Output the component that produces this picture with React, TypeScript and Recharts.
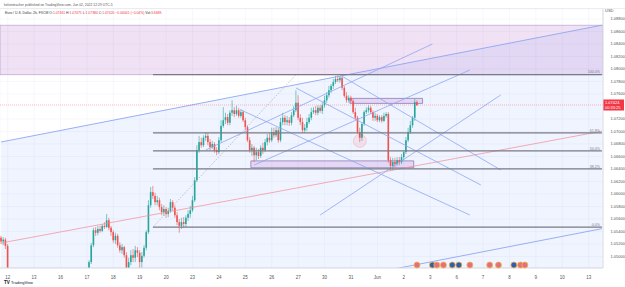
import {
  Area,
  Bar,
  CartesianGrid,
  ComposedChart,
  ReferenceArea,
  ReferenceDot,
  ReferenceLine,
  XAxis,
  YAxis,
} from "recharts"

// EUR/USD 2h candles, [open, high, low, close], one array per trading day
type Ohlc = [number, number, number, number]

const may11: Ohlc[] = [
  [1.053, 1.0533, 1.052, 1.0524], [1.0524, 1.0531, 1.0518, 1.0527], [1.0527, 1.053, 1.0512, 1.0517],
]
const may12: Ohlc[] = [
  [1.0517, 1.052, 1.0462, 1.047], [1.047, 1.0478, 1.0445, 1.0452], [1.0452, 1.046, 1.043, 1.0438],
  [1.0438, 1.0446, 1.0412, 1.042], [1.042, 1.0432, 1.0398, 1.0405], [1.0405, 1.0418, 1.0388, 1.041],
  [1.041, 1.0422, 1.0395, 1.04], [1.04, 1.0408, 1.0365, 1.0372], [1.0372, 1.0385, 1.0352, 1.038],
  [1.038, 1.0395, 1.037, 1.0388], [1.0388, 1.04, 1.0378, 1.0382], [1.0382, 1.0392, 1.0372, 1.0378],
]
const may13: Ohlc[] = [
  [1.0378, 1.0388, 1.0368, 1.0384], [1.0384, 1.0398, 1.0376, 1.0392], [1.0392, 1.0405, 1.0385, 1.04],
  [1.04, 1.0412, 1.039, 1.0395], [1.0395, 1.042, 1.039, 1.0414], [1.0414, 1.0425, 1.0402, 1.0408],
  [1.0408, 1.0416, 1.0385, 1.0392], [1.0392, 1.0402, 1.0375, 1.038], [1.038, 1.0392, 1.036, 1.037],
  [1.037, 1.0385, 1.0362, 1.0378], [1.0378, 1.0395, 1.0372, 1.0388], [1.0388, 1.0398, 1.038, 1.0392],
]
const may16: Ohlc[] = [
  [1.0392, 1.0408, 1.0385, 1.0402], [1.0402, 1.0415, 1.0395, 1.041], [1.041, 1.0422, 1.0398, 1.0404],
  [1.0404, 1.0412, 1.0389, 1.0396], [1.0396, 1.0418, 1.0392, 1.0414], [1.0414, 1.043, 1.0408, 1.0425],
  [1.0425, 1.044, 1.0418, 1.0434], [1.0434, 1.0445, 1.0422, 1.0428], [1.0428, 1.0438, 1.0415, 1.0422],
  [1.0422, 1.0436, 1.0418, 1.0432], [1.0432, 1.0442, 1.0425, 1.0438], [1.0438, 1.0448, 1.043, 1.0442],
]
const may17: Ohlc[] = [
  [1.0446, 1.0466, 1.0443, 1.0459], [1.0459, 1.0494, 1.0456, 1.0491], [1.0491, 1.0522, 1.0488, 1.0518],
  [1.0518, 1.0546, 1.0515, 1.0542], [1.0542, 1.0547, 1.0533, 1.0538], [1.0538, 1.0549, 1.0534, 1.0544],
  [1.0544, 1.0549, 1.0538, 1.0541], [1.0541, 1.0552, 1.0539, 1.0549], [1.0549, 1.0555, 1.0544, 1.0547],
  [1.0547, 1.0568, 1.0546, 1.0558], [1.0558, 1.0562, 1.0542, 1.0546], [1.0546, 1.0549, 1.0533, 1.0539],
]
const may18: Ohlc[] = [
  [1.0539, 1.0542, 1.0522, 1.0526], [1.0526, 1.0538, 1.052, 1.0533], [1.0533, 1.0536, 1.0514, 1.0518],
  [1.0518, 1.0523, 1.0506, 1.051], [1.051, 1.052, 1.0504, 1.0515], [1.0515, 1.0517, 1.0498, 1.0502],
  [1.0502, 1.0507, 1.047, 1.0478], [1.0478, 1.0498, 1.0472, 1.0491], [1.0491, 1.051, 1.0486, 1.0502],
  [1.0502, 1.0512, 1.0491, 1.0498], [1.0498, 1.0517, 1.0491, 1.051], [1.051, 1.0515, 1.0499, 1.0506],
]
const may19: Ohlc[] = [
  [1.0506, 1.051, 1.0478, 1.0491], [1.0491, 1.0507, 1.0475, 1.0501], [1.0501, 1.0518, 1.0498, 1.0514],
  [1.0514, 1.0542, 1.051, 1.0539], [1.0539, 1.059, 1.0536, 1.0582], [1.0582, 1.0611, 1.0578, 1.0603],
  [1.0603, 1.0613, 1.0592, 1.0597], [1.0597, 1.0602, 1.0582, 1.0587], [1.0587, 1.0597, 1.0582, 1.059],
  [1.059, 1.0594, 1.0574, 1.0579], [1.0579, 1.0584, 1.0566, 1.0571], [1.0571, 1.0582, 1.0565, 1.0576],
]
const may20: Ohlc[] = [
  [1.0576, 1.0579, 1.0562, 1.0568], [1.0568, 1.0578, 1.0563, 1.0573], [1.0573, 1.0592, 1.057, 1.0587],
  [1.0587, 1.059, 1.0573, 1.0578], [1.0578, 1.0582, 1.0562, 1.0566], [1.0566, 1.0571, 1.055, 1.0555],
  [1.0555, 1.056, 1.0538, 1.0549], [1.0549, 1.0562, 1.0544, 1.0555], [1.0555, 1.0563, 1.0546, 1.0552],
  [1.0552, 1.0566, 1.0547, 1.0562], [1.0562, 1.0574, 1.0557, 1.0568], [1.0568, 1.0581, 1.0562, 1.0574],
]
const may23: Ohlc[] = [
  [1.0574, 1.0597, 1.0571, 1.059], [1.059, 1.0627, 1.0587, 1.0622], [1.0622, 1.0678, 1.0619, 1.067],
  [1.067, 1.0693, 1.0666, 1.0683], [1.0683, 1.069, 1.0674, 1.0678], [1.0678, 1.0694, 1.0675, 1.069],
  [1.069, 1.0699, 1.0685, 1.0693], [1.0693, 1.0698, 1.0678, 1.0683], [1.0683, 1.0688, 1.067, 1.0675],
  [1.0675, 1.0685, 1.0672, 1.068], [1.068, 1.0683, 1.0666, 1.067], [1.067, 1.0675, 1.0662, 1.0667],
]
const may24: Ohlc[] = [
  [1.0667, 1.0691, 1.0664, 1.0686], [1.0686, 1.0718, 1.0683, 1.0709], [1.0709, 1.0739, 1.0706, 1.0718],
  [1.0718, 1.073, 1.0712, 1.0723], [1.0723, 1.0728, 1.071, 1.0714], [1.0714, 1.0734, 1.071, 1.073],
  [1.073, 1.075, 1.0725, 1.0734], [1.0734, 1.0739, 1.0723, 1.0728], [1.0728, 1.0741, 1.0725, 1.0734],
  [1.0734, 1.0738, 1.0722, 1.0725], [1.0725, 1.0736, 1.0722, 1.0731], [1.0731, 1.0734, 1.0715, 1.0718],
]
const may25: Ohlc[] = [
  [1.0718, 1.0722, 1.0702, 1.0707], [1.0707, 1.071, 1.0683, 1.0686], [1.0686, 1.0691, 1.0666, 1.067],
  [1.067, 1.068, 1.0661, 1.0674], [1.0674, 1.0677, 1.0651, 1.0662], [1.0662, 1.0674, 1.0654, 1.0667],
  [1.0667, 1.0672, 1.0656, 1.0661], [1.0661, 1.0678, 1.0658, 1.0674], [1.0674, 1.0682, 1.0664, 1.067],
  [1.067, 1.0688, 1.0667, 1.0683], [1.0683, 1.0696, 1.0678, 1.069], [1.069, 1.0698, 1.0682, 1.0686],
]
const may26: Ohlc[] = [
  [1.0686, 1.0706, 1.0683, 1.0699], [1.0699, 1.0706, 1.069, 1.0694], [1.0694, 1.0707, 1.0691, 1.0702],
  [1.0702, 1.0706, 1.0682, 1.0686], [1.0686, 1.0722, 1.0683, 1.0715], [1.0715, 1.073, 1.071, 1.0722],
  [1.0722, 1.0726, 1.071, 1.0715], [1.0715, 1.0725, 1.071, 1.0718], [1.0718, 1.0723, 1.0709, 1.0714],
  [1.0714, 1.0731, 1.071, 1.0726], [1.0726, 1.0741, 1.0723, 1.0734], [1.0734, 1.0766, 1.0731, 1.0746],
]
const may27: Ohlc[] = [
  [1.0746, 1.0758, 1.0718, 1.0722], [1.0722, 1.0728, 1.071, 1.0715], [1.0715, 1.0722, 1.0698, 1.0702],
  [1.0702, 1.0712, 1.0698, 1.0706], [1.0706, 1.0722, 1.0701, 1.0715], [1.0715, 1.0728, 1.0712, 1.0722],
  [1.0722, 1.0738, 1.0718, 1.0731], [1.0731, 1.0739, 1.0728, 1.0734], [1.0734, 1.0741, 1.0726, 1.073],
  [1.073, 1.0742, 1.0726, 1.0738], [1.0738, 1.0742, 1.073, 1.0733], [1.0733, 1.0747, 1.0728, 1.0742],
]
const may30: Ohlc[] = [
  [1.0742, 1.0757, 1.0738, 1.075], [1.075, 1.0763, 1.0746, 1.0758], [1.0758, 1.0773, 1.0754, 1.0766],
  [1.0766, 1.0776, 1.0762, 1.0773], [1.0773, 1.0784, 1.0768, 1.0779], [1.0779, 1.0789, 1.0776, 1.0784],
  [1.0784, 1.079, 1.0779, 1.0782], [1.0782, 1.0789, 1.0778, 1.0786], [1.0786, 1.0787, 1.0766, 1.077],
  [1.077, 1.0773, 1.0754, 1.0757], [1.0757, 1.0763, 1.0746, 1.075], [1.075, 1.0758, 1.0746, 1.0754],
]
const may31: Ohlc[] = [
  [1.0754, 1.0757, 1.0746, 1.0749], [1.0749, 1.0752, 1.0728, 1.0731], [1.0731, 1.0738, 1.0718, 1.0722],
  [1.0722, 1.0725, 1.0696, 1.0699], [1.0699, 1.0706, 1.0683, 1.069], [1.069, 1.0715, 1.0685, 1.0712],
  [1.0712, 1.0734, 1.0709, 1.0731], [1.0731, 1.0739, 1.0728, 1.0734], [1.0734, 1.0742, 1.073, 1.0738],
  [1.0738, 1.0741, 1.0728, 1.0731], [1.0731, 1.0734, 1.0717, 1.0722], [1.0722, 1.073, 1.0717, 1.0725],
]
const jun01: Ohlc[] = [
  [1.0725, 1.0728, 1.0715, 1.0718], [1.0718, 1.0726, 1.0715, 1.0723], [1.0723, 1.0726, 1.0714, 1.0717],
  [1.0717, 1.073, 1.0715, 1.0725], [1.0725, 1.0731, 1.0722, 1.0728], [1.0728, 1.0731, 1.065, 1.0654],
  [1.0654, 1.0659, 1.0637, 1.0645], [1.0645, 1.0658, 1.0638, 1.0651], [1.0651, 1.0658, 1.0643, 1.0648],
  [1.0648, 1.0659, 1.0645, 1.0654], [1.0654, 1.0659, 1.0646, 1.0651], [1.0651, 1.0664, 1.0648, 1.0659],
]
const jun02: Ohlc[] = [
  [1.0659, 1.067, 1.0654, 1.0667], [1.0667, 1.0691, 1.0664, 1.0686], [1.0686, 1.0706, 1.0683, 1.0699],
  [1.0699, 1.0717, 1.0696, 1.071], [1.071, 1.0725, 1.0706, 1.0722], [1.0722, 1.0752, 1.0717, 1.0747],
  [1.0747, 1.075, 1.0741, 1.0742],
]

const candles = [
  ...may11, ...may12, ...may13, ...may16, ...may17, ...may18, ...may19, ...may20, ...may23,
  ...may24, ...may25, ...may26, ...may27, ...may30, ...may31, ...jun01, ...jun02,
]

// time axis: one slot per 2h bar, 12 per day; first day label sits at slot 3
const dayLabels = ["12", "13", "16", "17", "18", "19", "20", "23", "24", "25", "26", "27", "30", "31", "Jun", "2", "3", "6", "7", "8", "9", "10", "13"]
const SLOTS = 274
const FIRST_DAY = 3
const dayTicks = dayLabels.map((_, d) => FIRST_DAY + d * 12)

// 1.07400 sits behind the last-price tag, so it is left out like in the reference
const priceTicks = [1.05, 1.052, 1.054, 1.056, 1.058, 1.06, 1.062, 1.064, 1.066, 1.068, 1.07, 1.072, 1.076, 1.078, 1.08, 1.082, 1.084, 1.086, 1.088]

// fibonacci retracement
const fibLow = 1.0547
const fibHigh = 1.0791
const fibLevels = [0, 0.382, 0.5, 0.618, 1]
const fibStart = 69

// channel and trend lines: [slotA, priceA, slotB, priceB]
const channelTop: [number, number, number, number] = [0, 1.06832, 273, 1.08701]
const channelBottom: [number, number, number, number] = [150, 1.04605, 273, 1.05445]
const redTrend: [number, number, number, number] = [0, 1.05216, 273, 1.07005]
const forkLines: [number, number, number, number][] = [
  [93, 1.06704, 196, 1.084],
  [115, 1.06464, 213, 1.07984],
  [145, 1.05664, 227, 1.07584],
  [134, 1.07696, 218, 1.06144],
  [154, 1.07904, 227, 1.06384],
  [109, 1.07344, 213, 1.05664],
]

// zones
const topZone = { x1: 0, x2: 273, y1: 1.0791, y2: 1.087 }
const zones = [
  { x1: 159, x2: 191, y1: 1.0745, y2: 1.0753 },
  { x1: 114, x2: 187, y1: 1.0642, y2: 1.0653 },
]
const lowMarker = { x: 163, y: 1.0685 }

// economic calendar markers
const eventSlots = [189, 196, 198, 201, 205, 208, 213, 222, 226, 233, 236, 238]
const eventKinds = ["US", "EU", "US", "US", "EU", "EU", "US", "US", "US", "EU", "US", "US"]
const eventPrice = 1.04864

const lastPrice = 1.07424

const rows = Array.from({ length: SLOTS }, (_, i) => {
  const k = candles[i]
  const row: any = { i }
  if (k) {
    row.o = k[0]; row.h = k[1]; row.l = k[2]; row.c = k[3]
    row.range = [k[2], k[1]]
  }
  if (i === channelTop[0]) row.fill = [1.0, channelTop[1]]
  if (i === channelTop[2]) row.fill = [1.0, channelTop[3]]
  return row
})

const UP = "#26a69a"
const DOWN = "#ef5350"
const LINE = "#8ea6f2"

function Candle(props: any) {
  const { x, y, width, height, payload } = props
  if (!payload || payload.h == null) return null
  const { o, h, l, c } = payload
  const top = Math.min(y, y + height)
  const hgt = Math.abs(height)
  const span = h - l || 1e-9
  const py = (v: number) => top + ((h - v) / span) * hgt
  const cx = x + width / 2
  const color = c >= o ? UP : DOWN
  const bTop = py(Math.max(o, c))
  const bBot = py(Math.min(o, c))
  return (
    <g>
      <line x1={cx} x2={cx} y1={top} y2={top + hgt} stroke={color} strokeWidth={0.6} />
      <rect x={cx - 0.8} y={bTop} width={1.6} height={Math.max(0.6, bBot - bTop)} fill={color} />
    </g>
  )
}

function fibLabel(text: string) {
  return (p: any) => {
    const vb = p.viewBox || {}
    return (
      <text x={(vb.x || 0) + (vb.width || 0) - 2} y={(vb.y || 0) - 1.2} textAnchor="end" fontSize={3.6} fill="#787b86" fontFamily="Arial, sans-serif">
        {text}
      </text>
    )
  }
}

function PriceTag(p: any) {
  const vb = p.viewBox || {}
  const x = (vb.x || 0) + (vb.width || 0)
  const y = vb.y || 0
  return (
    <g fontFamily="Arial, sans-serif">
      <rect x={x} y={y - 5.5} width={21} height={11} fill="#f23645" />
      <text x={x + 2} y={y - 0.8} fontSize={4} fill="#fff">{lastPrice.toFixed(5)}</text>
      <text x={x + 2} y={y + 4} fontSize={4} fill="#fff">00:33:25</text>
    </g>
  )
}

export default function App() {
  return (
    <div style={{ position: "relative", width: 625, height: 287, background: "#fff" }}>
      <style>{"body{margin:0}"}</style>
      <ComposedChart width={625} height={287} data={rows} margin={{ top: 9, right: 0, bottom: 0, left: 0 }} barCategoryGap={0}>
        <CartesianGrid stroke="#f0f3fa" strokeWidth={0.6} />
        <XAxis
          dataKey="i"
          type="category"
          ticks={dayTicks}
          interval={0}
          tickFormatter={(v: number) => dayLabels[(v - FIRST_DAY) / 12] ?? ""}
          tick={{ fontSize: 4.5, fill: "#555", fontFamily: "Arial, sans-serif" }}
          tickLine={false}
          tickMargin={2}
          axisLine={{ stroke: "#d6d9e0" }}
          height={19}
        />
        <YAxis
          orientation="right"
          domain={[1.04816, 1.0896]}
          allowDataOverflow
          ticks={priceTicks}
          interval={0}
          tickFormatter={(v: number) => v.toFixed(5)}
          tick={{ fontSize: 4, fill: "#555", fontFamily: "Arial, sans-serif" }}
          tickLine={false}
          tickMargin={1.5}
          axisLine={{ stroke: "#d6d9e0" }}
          width={22}
        />
        <ReferenceArea {...topZone} fill="#9c27b0" fillOpacity={0.14} stroke="#9c7fc0" strokeOpacity={0.6} strokeWidth={0.8} ifOverflow="hidden" />
        <Area dataKey="fill" type="linear" connectNulls stroke="none" fill="#2962ff" fillOpacity={0.07} isAnimationActive={false} />
        {zones.map((z, k) => (
          <ReferenceArea key={k} {...z} fill="#9c27b0" fillOpacity={0.14} stroke="#8e7ab5" strokeWidth={0.8} ifOverflow="hidden" />
        ))}
        <ReferenceDot x={lowMarker.x} y={lowMarker.y} r={6.5} fill="#f23645" fillOpacity={0.1} stroke="#f23645" strokeOpacity={0.18} />
        <ReferenceLine segment={[{ x: channelTop[0], y: channelTop[1] }, { x: channelTop[2], y: channelTop[3] }]} stroke={LINE} strokeWidth={0.9} ifOverflow="hidden" />
        <ReferenceLine segment={[{ x: channelBottom[0], y: channelBottom[1] }, { x: channelBottom[2], y: channelBottom[3] }]} stroke={LINE} strokeWidth={0.9} ifOverflow="hidden" />
        <ReferenceLine segment={[{ x: redTrend[0], y: redTrend[1] }, { x: redTrend[2], y: redTrend[3] }]} stroke="#f28b95" strokeWidth={0.7} ifOverflow="hidden" />
        {forkLines.map((l, k) => (
          <ReferenceLine key={k} segment={[{ x: l[0], y: l[1] }, { x: l[2], y: l[3] }]} stroke={LINE} strokeWidth={0.8} ifOverflow="hidden" />
        ))}
        <ReferenceLine segment={[{ x: fibStart, y: fibLow }, { x: 134, y: fibHigh }]} stroke="#9598a1" strokeDasharray="1 1.5" strokeWidth={0.7} ifOverflow="hidden" />
        {fibLevels.map((lv) => {
          const p = fibLow + (fibHigh - fibLow) * lv
          return (
            <ReferenceLine
              key={lv}
              segment={[{ x: fibStart, y: p }, { x: SLOTS - 1, y: p }]}
              stroke="#787b86"
              strokeWidth={1.3}
              ifOverflow="hidden"
              label={fibLabel(`${(lv * 100).toFixed(1)}%`)}
            />
          )
        })}
        <ReferenceLine y={lastPrice} stroke="#f23645" strokeOpacity={0.5} strokeDasharray="1 1" strokeWidth={0.7} label={PriceTag} />
        <Bar dataKey="range" shape={Candle} isAnimationActive={false} />
        {eventSlots.map((s, k) => (
          <ReferenceDot
            key={k}
            x={s}
            y={eventPrice}
            r={3}
            fill={eventKinds[k] === "EU" ? "#2c5fb0" : "#e07080"}
            stroke="#f5b24a"
            strokeWidth={0.8}
            ifOverflow="visible"
          />
        ))}
      </ComposedChart>
      <svg width={625} height={287} style={{ position: "absolute", left: 0, top: 0, pointerEvents: "none" }} fontFamily="Arial, sans-serif">
        <text x={4} y={5.5} fontSize={3.4} fill="#555">kelvinteacher published on TradingView.com, Jun 02, 2022 12:29 UTC-5</text>
        <line x1={0} x2={625} y1={8.5} y2={8.5} stroke="#e0e3eb" strokeWidth={0.6} />
        <text x={5} y={13.5} fontSize={3.4} fill="#333">
          Euro / U.S. Dollar, 2h, FXCM{"  "}
          <tspan fill="#333">O:</tspan><tspan fill="#f23645">1.07461 </tspan>
          <tspan fill="#333"> H:</tspan><tspan fill="#f23645">1.07475 </tspan>
          <tspan fill="#333"> L:</tspan><tspan fill="#f23645">1.07380 </tspan>
          <tspan fill="#333"> C:</tspan><tspan fill="#f23645">1.07420  −0.00041 (−0.04%) </tspan>
          <tspan fill="#333"> Vol:</tspan><tspan fill="#f23645">3.668K</tspan>
        </text>
        <text x={605} y={12} fontSize={4} fill="#555">USD</text>
        <text x={4} y={284} fontSize={4.6} fill="#131722" fontWeight="bold">TV</text>
        <text x={11} y={284} fontSize={4} fill="#131722">TradingView</text>
      </svg>
    </div>
  )
}
